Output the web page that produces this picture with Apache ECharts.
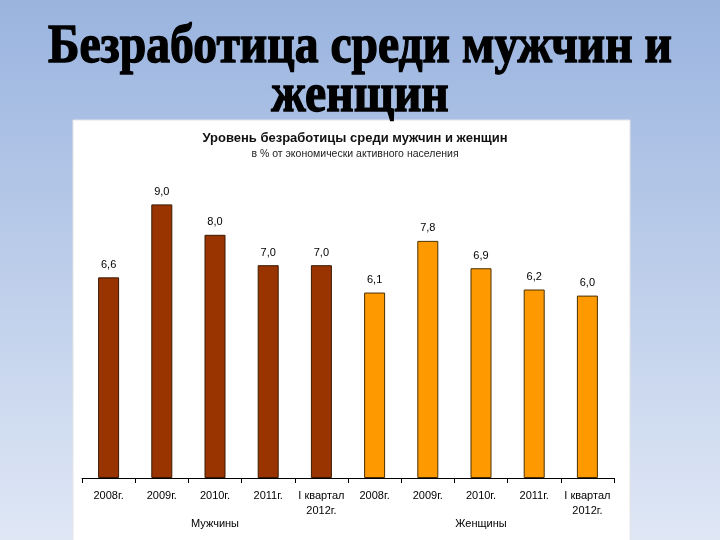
<!DOCTYPE html>
<html><head><meta charset="utf-8">
<script src="https://cdn.jsdelivr.net/npm/echarts@6/dist/echarts.min.js"></script>
<style>html,body{margin:0;padding:0;}#c{width:720px;height:540px;}</style>
</head><body><div id="c"></div>
<script>
const pageTitle1 = 'Безработица среди мужчин и';
const pageTitle2 = 'женщин';
const chartTitle = 'Уровень безработицы среди мужчин и женщин';
const chartSubtitle = 'в % от экономически активного населения';
const periods = ['2008г.', '2009г.', '2010г.', '2011г.', 'I квартал\n2012г.'];
const groups = ['Мужчины', 'Женщины'];
const menValues = [6.6, 9.0, 8.0, 7.0, 7.0];
const womenValues = [6.1, 7.8, 6.9, 6.2, 6.0];

const categories = periods.concat(periods).map((p, i) => p + (i < 5 ? '' : '\u200b'));
const menData = menValues.concat(womenValues.map(() => null));
const womenData = menValues.map(() => null).concat(womenValues);

const titleFont = 'bold 54px "Liberation Serif", "Times New Roman", serif';
const cv = document.createElement('canvas').getContext('2d');
cv.font = titleFont;
const sx = 624 / cv.measureText(pageTitle1).width;

const chart = echarts.init(document.getElementById('c'));
const fmt = p => p.value == null ? '' : p.value.toFixed(1).replace('.', ',');
const labelCfg = {show: true, position: 'top', distance: 7, color: '#000', fontSize: 11, fontFamily: 'Liberation Sans, Arial', formatter: fmt};
chart.setOption({
  animation: false,
  graphic: [
    {type: 'rect', z: -10, shape: {x: 0, y: 0, width: 720, height: 540},
     style: {fill: new echarts.graphic.LinearGradient(0, 0, 0, 1, [{offset: 0, color: '#9ab4df'}, {offset: 1, color: '#dfe7f5'}])}},
    {type: 'rect', z: -9, shape: {x: 73, y: 120, width: 557, height: 430}, style: {fill: '#ffffff', stroke: '#e4e4e4', lineWidth: 1}},
    {type: 'text', z: -8, x: 360, y: 48, scaleX: sx, scaleY: 1,
     style: {text: pageTitle1, font: titleFont, fill: '#000', stroke: '#000', lineWidth: 1.4, textAlign: 'center', textVerticalAlign: 'middle'}},
    {type: 'text', z: -8, x: 360, y: 97, scaleX: sx, scaleY: 1,
     style: {text: pageTitle2, font: titleFont, fill: '#000', stroke: '#000', lineWidth: 1.4, textAlign: 'center', textVerticalAlign: 'middle'}}
  ],
  title: {
    text: chartTitle, subtext: chartSubtitle, left: 350, top: 127, textAlign: 'center', itemGap: 4,
    textStyle: {fontSize: 13, fontWeight: 'bold', color: '#111', fontFamily: 'Liberation Sans, Arial'},
    subtextStyle: {fontSize: 10.5, color: '#222', fontFamily: 'Liberation Sans, Arial'}
  },
  grid: {left: 82, right: 106, top: 174, bottom: 62},
  xAxis: [
    {type: 'category', data: categories, position: 'bottom',
     axisLine: {lineStyle: {color: '#000', width: 1}},
     axisTick: {show: true, length: 5, lineStyle: {color: '#000'}},
     axisLabel: {color: '#000', fontSize: 11, fontFamily: 'Liberation Sans, Arial', margin: 10, lineHeight: 15, interval: 0,
                 formatter: v => v.replace('\u200b', '')}},
    {type: 'category', data: groups, position: 'bottom', offset: 0,
     axisLine: {show: false}, axisTick: {show: false},
     axisLabel: {color: '#000', fontSize: 11, fontFamily: 'Liberation Sans, Arial', margin: 40, interval: 0}}
  ],
  yAxis: {type: 'value', min: 0, max: 10, show: false, splitLine: {show: false}},
  series: [
    {type: 'bar', data: menData, barWidth: 21, barGap: '-100%',
     itemStyle: {color: '#993300', borderColor: '#3a1a00', borderWidth: 1}, label: labelCfg},
    {type: 'bar', data: womenData, barWidth: 21, barGap: '-100%',
     itemStyle: {color: '#ff9900', borderColor: '#4a3000', borderWidth: 1}, label: labelCfg}
  ]
});
</script></body></html>
